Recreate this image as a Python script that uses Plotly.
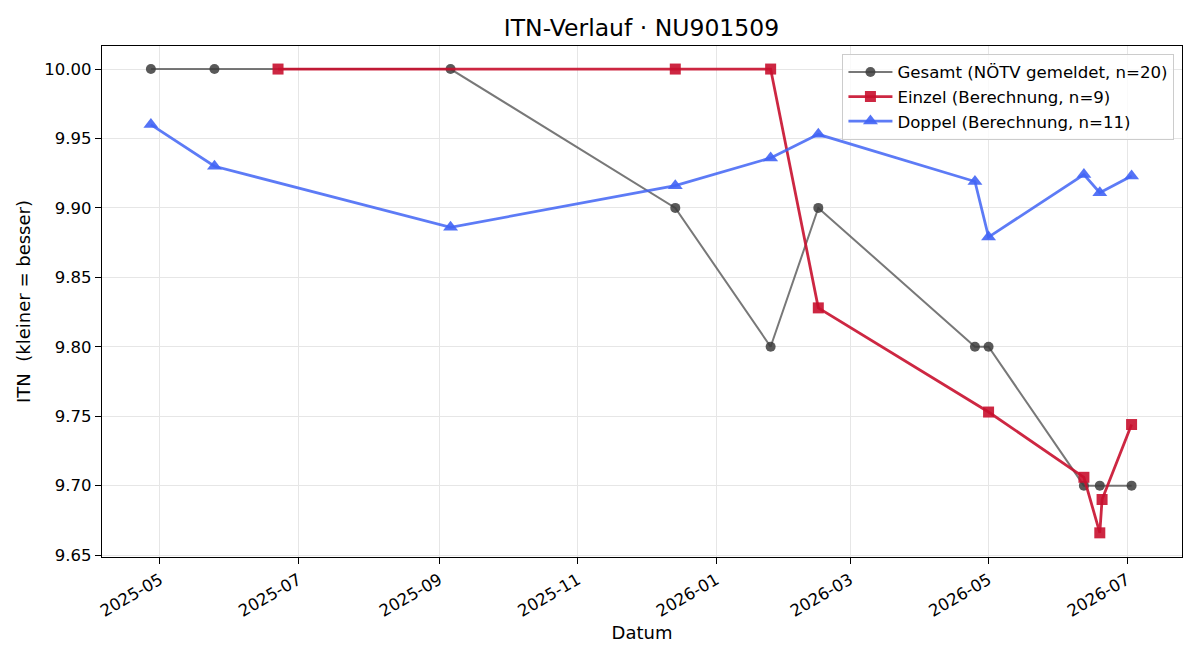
import plotly.graph_objects as go

# Gesamt (NÖTV gemeldet)
gesamt_dates = ["2025-04-27", "2025-05-25", "2025-09-06", "2025-12-14", "2026-01-25",
                "2026-02-15", "2026-04-25", "2026-05-01", "2026-06-12", "2026-06-19", "2026-07-03"]
gesamt_vals = [10.0, 10.0, 10.0, 9.9, 9.8, 9.9, 9.8, 9.8, 9.7, 9.7, 9.7]

# Einzel (Berechnung)
einzel_dates = ["2025-06-22", "2025-12-14", "2026-01-25", "2026-02-15", "2026-05-01",
                "2026-06-12", "2026-06-19", "2026-06-20", "2026-07-03"]
einzel_vals = [10.0, 10.0, 10.0, 9.828, 9.753, 9.706, 9.666, 9.690, 9.744]

# Doppel (Berechnung)
doppel_dates = ["2025-04-27", "2025-05-25", "2025-09-06", "2025-12-14", "2026-01-25",
                "2026-02-15", "2026-04-25", "2026-05-01", "2026-06-12", "2026-06-19", "2026-07-03"]
doppel_vals = [9.960, 9.930, 9.886, 9.916, 9.936, 9.953, 9.919, 9.879, 9.924, 9.911, 9.923]

y_ticks = [9.65, 9.70, 9.75, 9.80, 9.85, 9.90, 9.95, 10.00]

FONT = "DejaVu Sans"

fig = go.Figure()
fig.add_trace(go.Scatter(
    x=gesamt_dates, y=gesamt_vals, mode="lines+markers",
    name="Gesamt (NÖTV gemeldet, n=20)",
    line=dict(color="rgba(75,75,75,0.75)", width=2),
    marker=dict(symbol="circle", size=10, color="rgba(60,60,60,0.85)"),
))
fig.add_trace(go.Scatter(
    x=einzel_dates, y=einzel_vals, mode="lines+markers",
    name="Einzel (Berechnung, n=9)",
    line=dict(color="rgba(200,16,46,0.9)", width=2.8),
    marker=dict(symbol="square", size=11, color="rgba(200,16,46,0.9)"),
))
fig.add_trace(go.Scatter(
    x=doppel_dates, y=doppel_vals, mode="lines+markers",
    name="Doppel (Berechnung, n=11)",
    line=dict(color="rgba(65,100,245,0.85)", width=2.8),
    marker=dict(symbol="triangle-up", size=13, color="rgba(65,100,245,0.9)"),
))

fig.update_layout(
    width=1200, height=660,
    margin=dict(l=102, r=18, t=46, b=103),
    paper_bgcolor="white", plot_bgcolor="white",
    font=dict(family=FONT, size=16.5, color="black"),
    title=dict(text="ITN-Verlauf · NU901509", x=(505 + 778) / 2 / 1200, xanchor="center",
               y=1 - 28 / 660, yanchor="middle", font=dict(size=23.5)),
    showlegend=True,
    legend=dict(x=0.993, xanchor="right", y=0.985, yanchor="top",
                bgcolor="rgba(255,255,255,0.8)", bordercolor="#cccccc", borderwidth=1,
                font=dict(size=16.6), tracegroupgap=0, itemwidth=44),
)
fig.update_xaxes(
    type="date", range=["2025-04-05 11:00", "2026-07-25 05:00"],
    dtick="M2", tick0="2025-05-01", tickformat="%Y-%m", tickangle=-30,
    showline=True, linecolor="black", linewidth=1.2, mirror=True,
    ticks="outside", ticklen=6, tickcolor="black",
    showgrid=True, gridcolor="#e6e6e6", gridwidth=1, zeroline=False,
    title=dict(text="Datum", font=dict(size=18), standoff=6),
    tickfont=dict(size=16.5),
)
fig.update_yaxes(
    range=[9.6486, 10.0166], tickvals=y_ticks, tickformat=".2f",
    showline=True, linecolor="black", linewidth=1.2, mirror=True,
    ticks="outside", ticklen=6, tickcolor="black",
    showgrid=True, gridcolor="#e6e6e6", gridwidth=1, zeroline=False,
    title=dict(text="ITN\u00a0 (kleiner = besser)", font=dict(size=18), standoff=9),
    tickfont=dict(size=16.5),
)

fig.write_html("out.html")
